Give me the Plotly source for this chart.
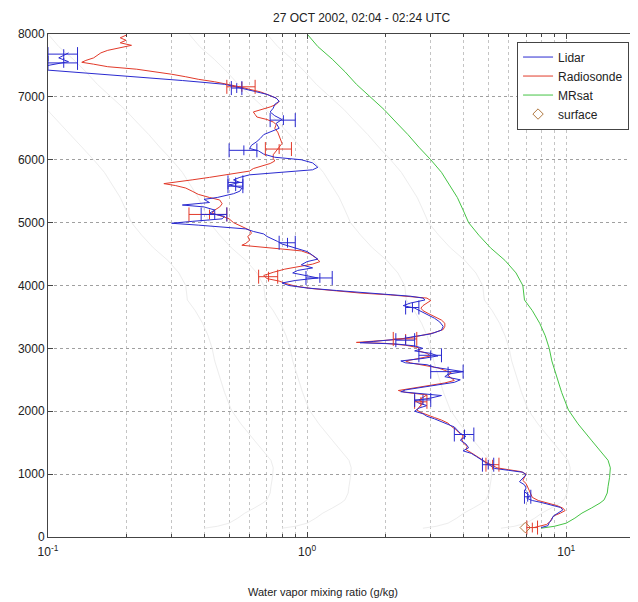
import plotly.graph_objects as go

# ---------------- data ----------------
lidar_alt = [7700, 7620, 7560, 7500, 7440, 7400, 7380, 7340, 7300, 7260, 7230, 7200, 7160, 7120, 7080, 7040,
             6980, 6930, 6880, 6820, 6760, 6700, 6640, 6580, 6500, 6440, 6400, 6340, 6290, 6230, 6180, 6140,
             6090, 6040, 6000, 5950, 5880, 5840, 5810, 5790, 5760, 5720, 5680, 5640, 5600, 5550, 5500, 5460,
             5400, 5370, 5320, 5280, 5250, 5200, 5150, 5100, 5060, 5020, 4990, 4960, 4930, 4900, 4860, 4820,
             4780, 4740, 4700, 4660, 4620, 4580, 4540, 4480, 4420, 4380, 4330, 4280, 4240, 4200, 4160, 4120,
             4080, 4040, 4000, 3960, 3920, 3890, 3860, 3830, 3800, 3770, 3720, 3680, 3640, 3590, 3540, 3480,
             3420, 3350, 3290, 3230, 3190, 3150, 3110, 3090, 3070, 3040, 3000, 2960, 2920, 2880, 2840, 2800,
             2770, 2740, 2700, 2660, 2630, 2590, 2550, 2500, 2460, 2420, 2380, 2340, 2310, 2280, 2250, 2210,
             2170, 2130, 2090, 2050, 2000, 1960, 1920, 1880, 1840, 1790, 1750, 1700, 1650, 1600, 1540, 1480,
             1420, 1370, 1330, 1280, 1230, 1180, 1130, 1090, 1060, 1030, 990, 940, 880, 830, 780, 720,
             660, 610, 580, 550, 510, 470, 430, 380, 330, 280, 230, 180, 150]
lidar_mr = [0.12, 0.11, 0.12, 0.10, 0.09, 0.12, 0.15, 0.20, 0.26, 0.33, 0.40, 0.48, 0.53, 0.58, 0.65, 0.70,
            0.76, 0.78, 0.75, 0.74, 0.72, 0.75, 0.80, 0.76, 0.78, 0.72, 0.68, 0.66, 0.64, 0.61, 0.60, 0.65,
            0.68, 0.75, 0.95, 1.05, 1.10, 1.05, 0.85, 0.70, 0.60, 0.55, 0.52, 0.55, 0.50, 0.56, 0.55, 0.52,
            0.45, 0.40, 0.42, 0.33, 0.40, 0.44, 0.42, 0.48, 0.47, 0.36, 0.30, 0.38, 0.48, 0.58, 0.62, 0.68,
            0.70, 0.74, 0.77, 0.80, 0.86, 0.92, 1.00, 1.05, 1.10, 1.00, 0.95, 1.05, 0.92, 0.88, 1.00, 1.10,
            0.90, 0.80, 0.85, 1.00, 1.30, 1.60, 2.00, 2.50, 2.80, 2.85, 2.50, 2.35, 2.60, 2.75, 2.90, 3.10,
            3.25, 3.35, 3.30, 3.00, 2.60, 2.30, 1.80, 1.60, 2.20, 2.60, 2.80, 2.60, 3.00, 3.20, 2.80, 2.30,
            2.40, 2.90, 3.10, 3.60, 4.00, 3.50, 3.40, 3.90, 3.70, 3.20, 2.80, 2.40, 2.30, 2.80, 3.30, 3.00,
            2.60, 2.70, 2.90, 2.70, 2.60, 2.80, 2.90, 3.10, 3.30, 3.50, 3.70, 3.80, 3.90, 4.10, 3.90, 4.10,
            4.20, 4.00, 4.30, 4.50, 4.70, 4.90, 5.10, 5.30, 6.00, 6.80, 7.00, 6.80, 6.60, 6.90, 7.00, 6.90,
            7.20, 7.10, 7.40, 8.00, 8.80, 9.50, 9.70, 9.30, 8.90, 8.80, 8.60, 8.50, 8.00]

sonde_alt = [7980, 7940, 7900, 7860, 7820, 7780, 7740, 7700, 7660, 7620, 7580, 7550, 7520, 7480, 7440, 7400,
             7360, 7320, 7280, 7240, 7200, 7160, 7120, 7080, 7040, 6980, 6930, 6880, 6840, 6800, 6760, 6720,
             6680, 6640, 6600, 6560, 6500, 6440, 6380, 6320, 6260, 6200, 6140, 6080, 6020, 5980, 5940, 5900,
             5860, 5820, 5790, 5760, 5720, 5680, 5640, 5620, 5590, 5550, 5500, 5450, 5400, 5360, 5300, 5250,
             5200, 5150, 5100, 5060, 5000, 4940, 4880, 4830, 4780, 4720, 4670, 4640, 4610, 4580, 4550, 4500,
             4440, 4380, 4340, 4300, 4260, 4210, 4160, 4110, 4070, 4030, 3990, 3950, 3910, 3880, 3850, 3820,
             3800, 3760, 3720, 3680, 3640, 3600, 3550, 3500, 3450, 3400, 3350, 3300, 3250, 3210, 3170, 3140,
             3110, 3095, 3080, 3050, 3010, 2960, 2920, 2880, 2840, 2800, 2770, 2730, 2690, 2650, 2610, 2570,
             2530, 2490, 2450, 2410, 2370, 2330, 2300, 2260, 2220, 2180, 2140, 2100, 2060, 2020, 1980, 1940,
             1900, 1860, 1810, 1760, 1710, 1660, 1610, 1560, 1500, 1440, 1390, 1340, 1290, 1240, 1190, 1140,
             1100, 1070, 1040, 1000, 950, 900, 850, 800, 740, 680, 630, 580, 540, 500, 460, 420,
             380, 340, 300, 250, 200, 160, 150]
sonde_mr = [0.20, 0.19, 0.20, 0.19, 0.21, 0.19, 0.17, 0.16, 0.155, 0.15, 0.14, 0.135, 0.15, 0.17, 0.22, 0.26,
            0.30, 0.34, 0.38, 0.44, 0.50, 0.55, 0.60, 0.66, 0.70, 0.76, 0.78, 0.76, 0.72, 0.66, 0.62, 0.63,
            0.64, 0.70, 0.74, 0.76, 0.75, 0.77, 0.78, 0.79, 0.80, 0.78, 0.76, 0.74, 0.74, 0.75, 0.72, 0.66,
            0.62, 0.60, 0.54, 0.50, 0.42, 0.36, 0.30, 0.28, 0.31, 0.34, 0.36, 0.38, 0.42, 0.46, 0.47, 0.46,
            0.44, 0.43, 0.47, 0.50, 0.52, 0.56, 0.60, 0.61, 0.59, 0.60, 0.58, 0.56, 0.65, 0.80, 0.95, 1.03,
            1.08, 1.12, 1.05, 0.92, 0.82, 0.74, 0.68, 0.70, 0.78, 0.83, 0.90, 1.05, 1.30, 1.60, 2.10, 2.60,
            2.90, 3.00, 2.90, 2.80, 2.75, 2.80, 2.95, 3.10, 3.30, 3.40, 3.40, 3.35, 3.10, 2.80, 2.50, 2.20,
            1.80, 1.55, 2.00, 2.40, 2.70, 2.70, 2.90, 3.00, 2.70, 2.40, 2.50, 2.80, 3.20, 3.40, 3.60, 3.50,
            3.60, 3.70, 3.40, 3.00, 2.60, 2.25, 2.40, 2.90, 2.80, 2.70, 2.80, 2.75, 2.70, 2.65, 2.75, 2.90,
            3.10, 3.30, 3.50, 3.60, 3.75, 3.85, 4.00, 3.95, 4.00, 4.15, 4.10, 4.30, 4.50, 4.70, 4.90, 5.20,
            5.40, 6.00, 6.70, 7.00, 6.90, 6.80, 7.00, 7.10, 7.20, 7.30, 7.40, 7.80, 8.50, 9.20, 9.70, 9.90,
            9.50, 9.00, 8.80, 8.70, 8.40, 7.80, 7.50]

mrsat_alt = [8000, 7800, 7600, 7400, 7200, 7000, 6800, 6600, 6400, 6200, 6000, 5800, 5600, 5400, 5200, 5000,
             4800, 4600, 4400, 4200, 4000, 3900, 3770, 3600, 3400, 3200, 3130, 3000, 2800, 2540, 2300, 2020,
             1800, 1540, 1380, 1220, 1100, 950, 800, 700, 590, 540, 460, 380, 300, 220, 170, 140]
mrsat_mr = [1.00, 1.10, 1.25, 1.40, 1.55, 1.75, 1.98, 2.20, 2.45, 2.70, 3.00, 3.30, 3.55, 3.80, 4.00, 4.20,
            4.60, 5.10, 5.80, 6.40, 6.80, 6.85, 6.90, 7.40, 7.90, 8.30, 8.40, 8.60, 8.80, 9.20, 9.60, 10.2,
            11.1, 12.5, 13.5, 14.5, 14.8, 14.7, 14.5, 14.4, 14.0, 13.5, 12.5, 11.5, 10.8, 10.0, 9.0, 8.0]

# faint background curves: fractions of saturation
bg_fractions = [0.7, 0.35, 0.1, 0.05]

# error bars
lidar_err_alt = [7680, 7540, 7140, 6630, 6150, 5640, 5580, 5130, 4680, 4120, 3650, 3130, 2890, 2630, 2180, 1630, 1150, 640]
lidar_err_mr = [0.115, 0.115, 0.535, 0.81, 0.57, 0.53, 0.53, 0.44, 0.84, 1.12, 2.55, 2.40, 3.00, 3.50, 2.80, 4.05, 5.00, 7.10]
lidar_err = [0.015, 0.015, 0.025, 0.09, 0.07, 0.035, 0.035, 0.05, 0.06, 0.13, 0.15, 0.20, 0.30, 0.50, 0.20, 0.35, 0.25, 0.20]
sonde_err_alt = [7160, 6170, 5130, 4140, 3150, 2150, 1150, 150]
sonde_err_mr = [0.56, 0.78, 0.42, 0.71, 2.40, 2.75, 5.20, 7.40]
sonde_err = [0.07, 0.09, 0.07, 0.06, 0.25, 0.15, 0.30, 0.35]
surface_alt = [150]
surface_mr = [6.95]

title_text = "27 OCT 2002, 02:04 - 02:24 UTC"
xlabel_text = "Water vapor mixing ratio (g/kg)"
x_major = [0.1, 1, 10]
x_major_text = ["10<sup>-1</sup>", "10<sup>0</sup>", "10<sup>1</sup>"]
x_minor = [0.2, 0.3, 0.4, 0.5, 0.6, 0.7, 0.8, 0.9, 2, 3, 4, 5, 6, 7, 8, 9]
y_ticks = [0, 1000, 2000, 3000, 4000, 5000, 6000, 7000, 8000]

# ---------------- figure ----------------
FONT = "Liberation Sans, Arial, sans-serif"
BLUE = "#2a2ad0"
RED = "#e23a2a"
GREEN = "#45c445"

fig = go.Figure()

for f in bg_fractions:
    fig.add_trace(go.Scatter(x=[v * f for v in mrsat_mr], y=mrsat_alt, mode="lines",
                             line=dict(color="#ededed", width=1), showlegend=False, hoverinfo="skip"))

fig.add_trace(go.Scatter(x=mrsat_mr, y=mrsat_alt, mode="lines", name="MRsat",
                         line=dict(color=GREEN, width=1), legendrank=3))
fig.add_trace(go.Scatter(x=sonde_mr, y=sonde_alt, mode="lines", name="Radiosonde",
                         line=dict(color=RED, width=1), legendrank=2))
fig.add_trace(go.Scatter(x=lidar_mr, y=lidar_alt, mode="lines", name="Lidar",
                         line=dict(color=BLUE, width=1), legendrank=1))

fig.add_trace(go.Scatter(x=sonde_err_mr, y=sonde_err_alt, mode="markers", showlegend=False,
                         marker=dict(symbol="line-ns", size=7, color=RED, line=dict(color=RED, width=1)),
                         error_x=dict(type="data", array=sonde_err, color=RED, thickness=1, width=7)))
fig.add_trace(go.Scatter(x=lidar_err_mr, y=lidar_err_alt, mode="markers", showlegend=False,
                         marker=dict(symbol="line-ns", size=7, color=BLUE, line=dict(color=BLUE, width=1)),
                         error_x=dict(type="data", array=lidar_err, color=BLUE, thickness=1, width=7)))

fig.add_trace(go.Scatter(x=surface_mr, y=surface_alt, mode="markers", name="surface",
                         marker=dict(symbol="diamond-open", size=8, color="#b07840",
                                     line=dict(width=1)), legendrank=4))

# page body has an 8px margin, so the figure is offset by 8px in both directions
fig.update_layout(
    width=630, height=594, autosize=False,
    margin=dict(l=40, r=0, t=26, b=65),
    paper_bgcolor="white", plot_bgcolor="white",
    font=dict(family=FONT, size=12, color="#222"),
    showlegend=True,
    legend=dict(x=0.795, y=0.985, xanchor="left", yanchor="top",
                bgcolor="white", bordercolor="#444", borderwidth=1,
                font=dict(family=FONT, size=12, color="#222"),
                tracegroupgap=0, itemwidth=30),
    annotations=[
        dict(text=title_text, x=0.532, y=1.032, xref="paper", yref="paper",
             showarrow=False, font=dict(family=FONT, size=12, color="#222"),
             xanchor="center", yanchor="middle"),
        dict(text=xlabel_text, x=0.466, y=-0.109, xref="paper", yref="paper",
             showarrow=False, font=dict(family=FONT, size=11, color="#222"),
             xanchor="center", yanchor="middle"),
    ],
)

fig.update_xaxes(
    type="log", range=[-1, 1.277],
    tickmode="array", tickvals=x_major, ticktext=x_major_text,
    ticks="inside", ticklen=5, tickcolor="#444", ticklabelstandoff=4,
    showline=True, linecolor="#444", linewidth=1, mirror="ticks",
    showgrid=True, gridcolor="#c4c4c4", griddash="dot", gridwidth=1,
    minor=dict(tickmode="array", tickvals=x_minor, ticks="inside", ticklen=3, tickcolor="#444",
               showgrid=True, gridcolor="#c4c4c4", griddash="dot", gridwidth=1),
    tickfont=dict(family=FONT, size=12, color="#222"),
    zeroline=False,
)
fig.update_yaxes(
    range=[0, 8000], tickmode="array", tickvals=y_ticks,
    ticks="inside", ticklen=5, tickcolor="#444",
    showline=True, linecolor="#444", linewidth=1, mirror=False,
    showgrid=True, gridcolor="#a0a0a0", griddash="dot", gridwidth=1,
    tickfont=dict(family=FONT, size=12, color="#222"),
    zeroline=False,
)

fig.write_html("out.html")
